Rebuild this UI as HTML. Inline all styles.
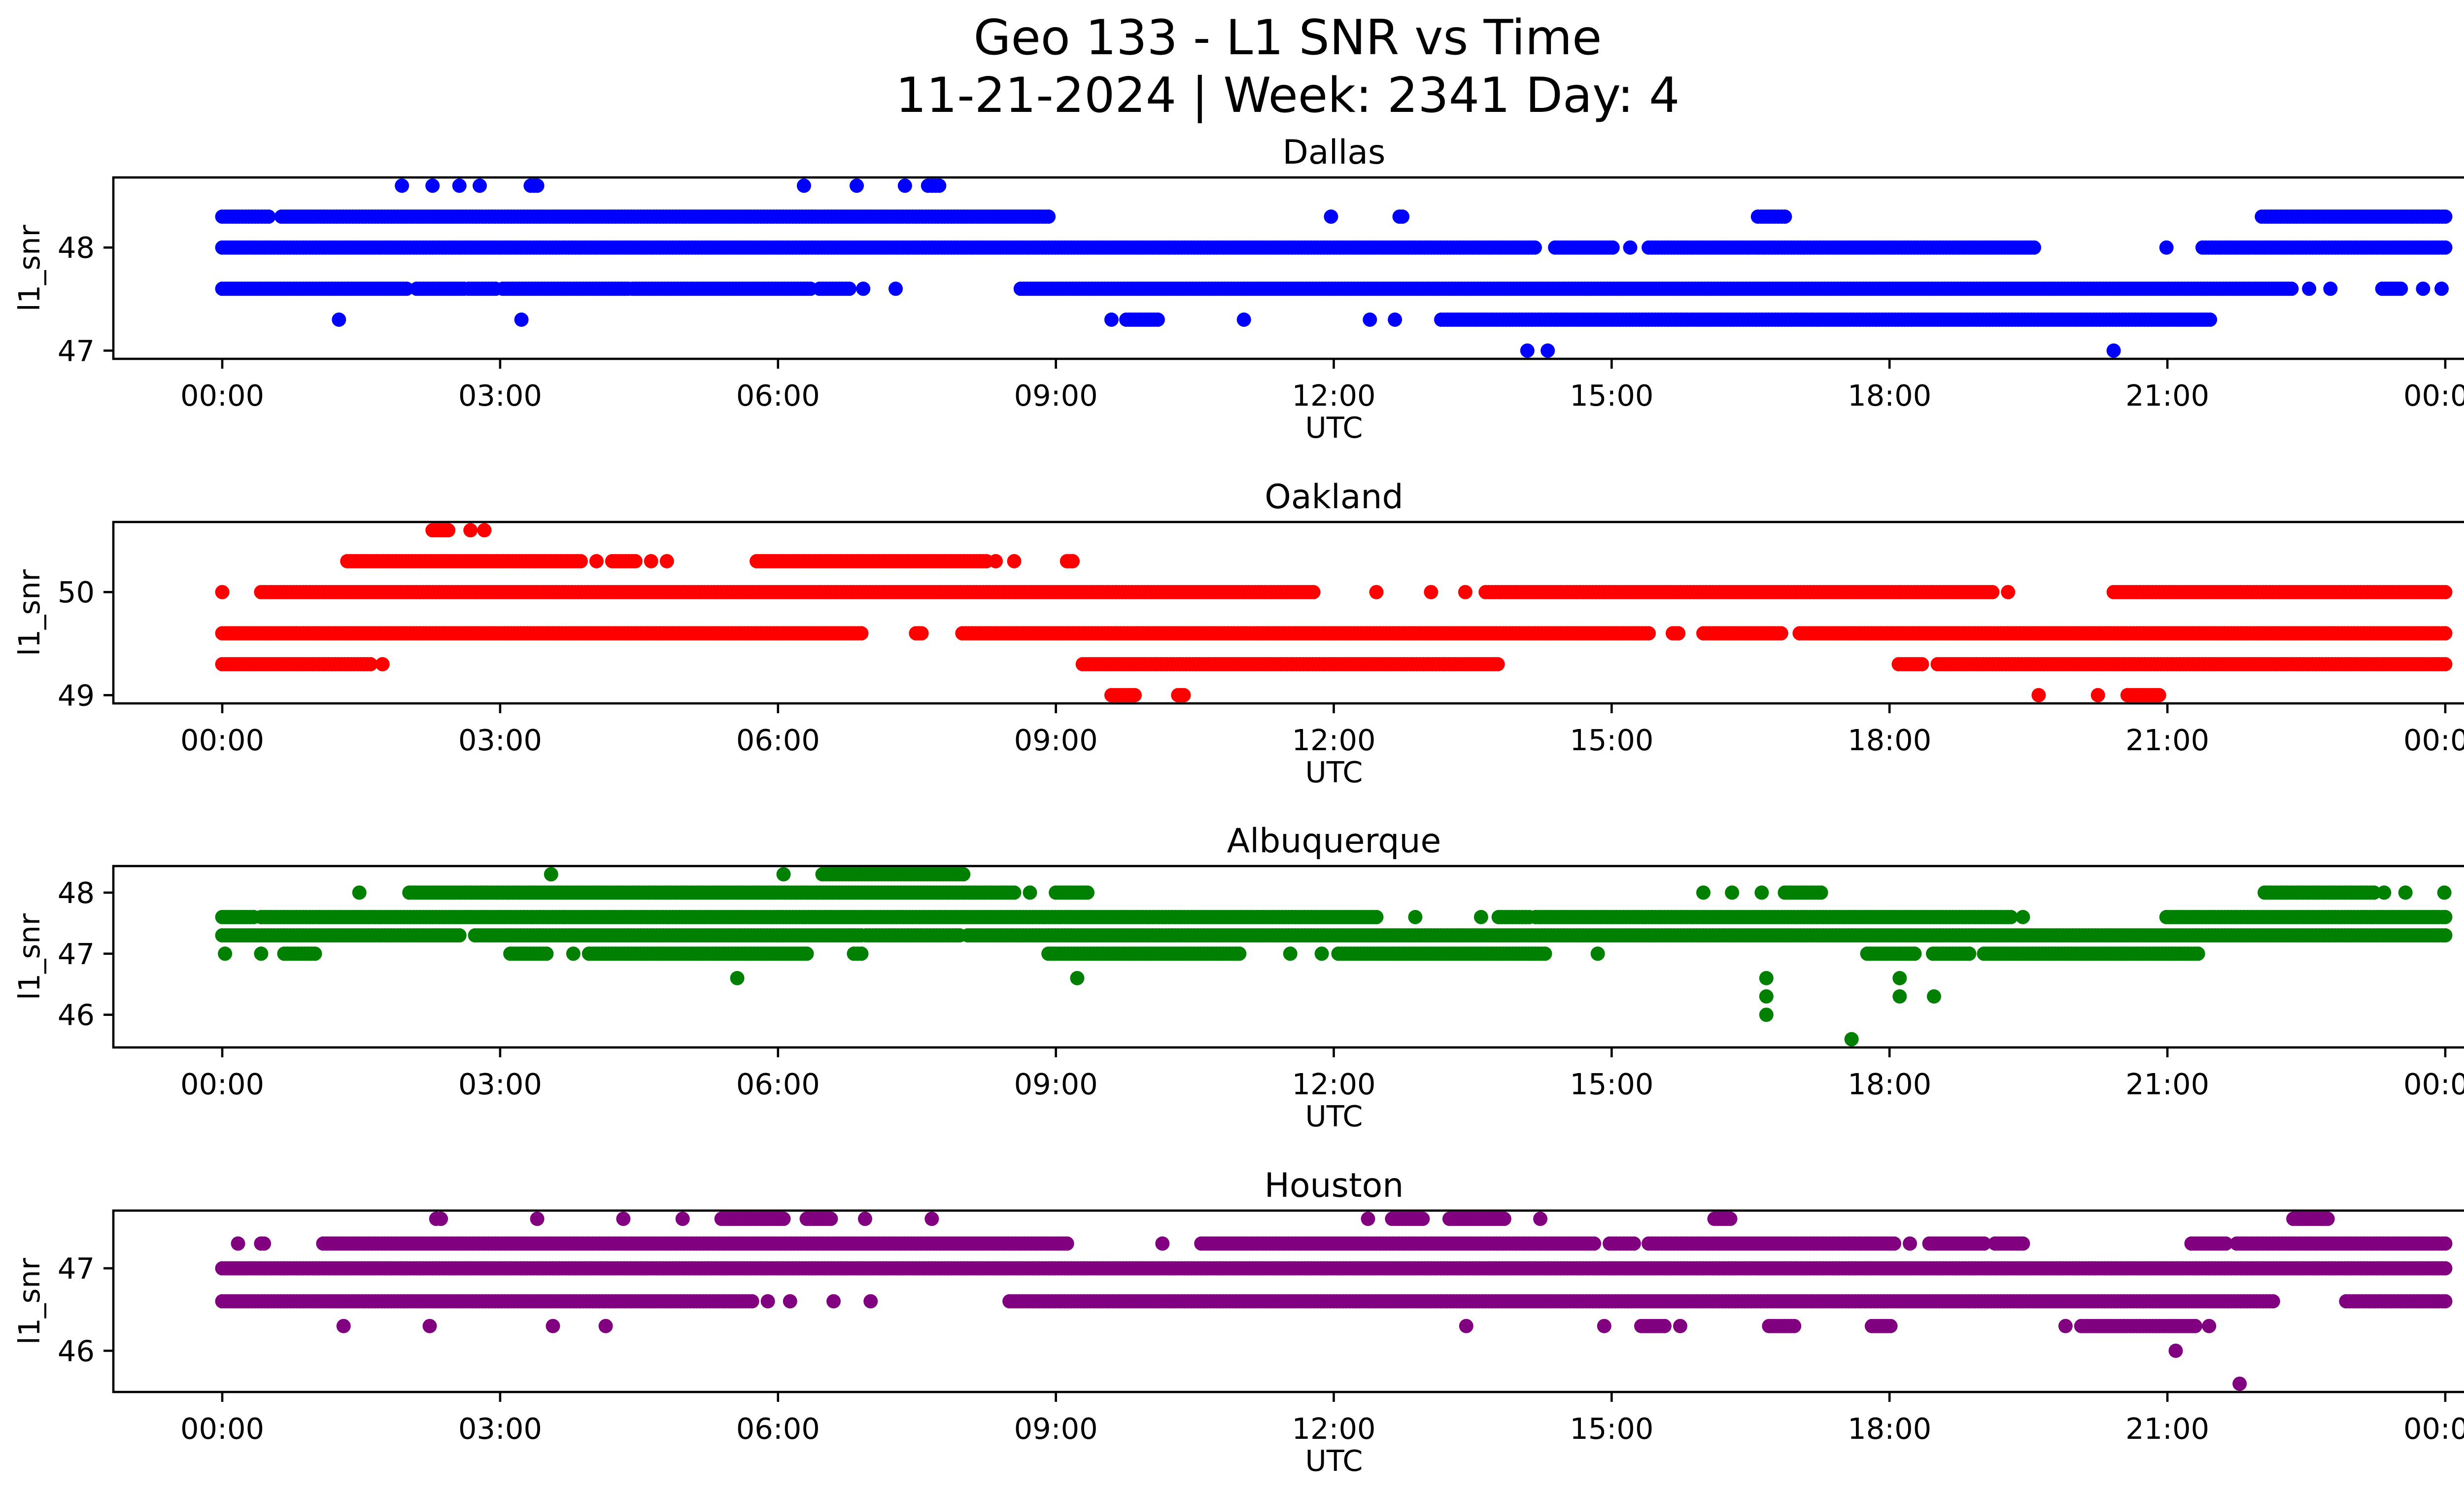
<!DOCTYPE html>
<html><head><meta charset="utf-8">
<style>
html,body{margin:0;padding:0;background:#fff;}
svg{display:block;font-family:"DejaVu Sans","Liberation Sans",sans-serif;}
</style></head>
<body>
<svg id="fig" width="5226" height="3033" viewBox="0 0 5226 3033" xmlns="http://www.w3.org/2000/svg">
<rect width="5226" height="3033" fill="#fff"/>
<text x="2613" y="110" font-size="98" text-anchor="middle">Geo 133 - L1 SNR vs Time</text>
<text x="2613" y="227" font-size="98" text-anchor="middle">11-21-2024 | Week: 2341 Day: 4</text>
<g id="panels"></g>
</svg>
<script>
// x ticks (hours) and labels
const xTickHours = [0,3,6,9,12,15,18,21,24];
const xTickLabels = ["00:00","03:00","06:00","09:00","12:00","15:00","18:00","21:00","00:00"];

// per station: levels and [start,end] hour spans at each level
const dallasLevels = [48.6, 48.3, 48.0, 47.6, 47.3, 47.0];
const dallasSpans = [
  [[1.94,1.94],[2.27,2.27],[2.56,2.56],[2.78,2.78],[3.33,3.4],[6.28,6.28],[6.85,6.85],[7.37,7.37],[7.62,7.74]],
  [[0,0.5],[0.64,8.92],[11.97,11.97],[12.71,12.74],[16.58,16.87],[22.02,24]],
  [[0,14.17],[14.39,15.01],[15.2,15.2],[15.4,19.56],[20.99,20.99],[21.38,24]],
  [[0,1.99],[2.1,2.61],[2.66,2.95],[3.03,4.38],[4.43,6.35],[6.45,6.77],[6.92,6.92],[7.27,7.27],[8.62,22.34],[22.53,22.53],[22.76,22.76],[23.32,23.52],[23.76,23.76],[23.96,23.96]],
  [[1.26,1.26],[3.23,3.23],[9.6,9.6],[9.76,10.1],[11.03,11.03],[12.39,12.39],[12.66,12.66],[13.16,21.46]],
  [[14.09,14.09],[14.31,14.31],[20.42,20.42]]
];
const oaklandLevels = [50.6, 50.3, 50.0, 49.6, 49.3, 49.0];
const oaklandSpans = [
  [[2.27,2.44],[2.68,2.68],[2.83,2.83]],
  [[1.35,3.87],[4.04,4.04],[4.21,4.46],[4.63,4.63],[4.8,4.8],[5.77,8.25],[8.35,8.35],[8.55,8.55],[9.12,9.18]],
  [[0,0],[0.42,11.78],[12.46,12.46],[13.05,13.05],[13.42,13.42],[13.64,19.11],[19.28,19.28],[20.42,24]],
  [[0,6.9],[7.49,7.55],[7.99,15.4],[15.66,15.72],[15.99,16.83],[17.03,24]],
  [[0,1.6],[1.73,1.73],[9.29,13.77],[18.1,18.35],[18.52,24]],
  [[9.6,9.85],[10.32,10.38],[19.61,19.61],[20.25,20.25],[20.57,20.91]]
];
const albuquerqueLevels = [48.3, 48.0, 47.6, 47.3, 47.0, 46.6, 46.3, 46.0, 45.6];
const albuquerqueSpans = [
  [[3.55,3.55],[6.06,6.06],[6.48,8.0]],
  [[1.48,1.48],[2.02,8.55],[8.72,8.72],[9.0,9.34],[15.99,15.99],[16.3,16.3],[16.62,16.62],[16.87,17.26],[22.05,23.23],[23.34,23.34],[23.57,23.57],[23.99,23.99]],
  [[0,0.34],[0.42,12.46],[12.88,12.88],[13.59,13.59],[13.78,14.11],[14.18,19.31],[19.44,19.44],[20.99,24]],
  [[0,2.56],[2.73,6.9],[6.95,7.96],[8.05,24]],
  [[0.03,0.03],[0.42,0.42],[0.67,1.0],[3.11,3.5],[3.79,3.79],[3.96,6.31],[6.82,6.9],[8.92,10.98],[11.53,11.53],[11.87,11.87],[12.05,14.28],[14.85,14.85],[17.76,18.27],[18.47,18.86],[19.02,21.33]],
  [[5.56,5.56],[9.23,9.23],[16.67,16.67],[18.11,18.11]],
  [[16.67,16.67],[18.11,18.11],[18.48,18.48]],
  [[16.67,16.67]],
  [[17.59,17.59]]
];
const houstonLevels = [47.6, 47.3, 47.0, 46.6, 46.3, 46.0, 45.6];
const houstonSpans = [
  [[2.31,2.36],[3.4,3.4],[4.33,4.33],[4.97,4.97],[5.39,6.06],[6.31,6.57],[6.94,6.94],[7.66,7.66],[12.37,12.37],[12.63,12.96],[13.25,13.84],[14.23,14.23],[16.11,16.28],[22.36,22.73]],
  [[0.17,0.17],[0.42,0.45],[1.09,9.12],[10.15,10.15],[10.57,14.81],[14.98,15.24],[15.4,18.05],[18.22,18.22],[18.43,19.02],[19.14,19.44],[21.26,21.63],[21.75,24]],
  [[0,24]],
  [[0,5.72],[5.89,5.89],[6.13,6.13],[6.6,6.6],[7.0,7.0],[8.5,22.14],[22.93,24]],
  [[1.31,1.31],[2.24,2.24],[3.57,3.57],[4.14,4.14],[13.43,13.43],[14.92,14.92],[15.32,15.57],[15.74,15.74],[16.7,16.97],[17.81,18.01],[19.9,19.9],[20.07,21.3],[21.45,21.45]],
  [[21.09,21.09]],
  [[21.78,21.78]]
];

const panels = [
  {name:"dallas", title:"Dallas", color:"#0000ff", top:360, ymin:46.92, ymax:48.68, yticks:[47,48], levels:dallasLevels, spans:dallasSpans},
  {name:"oakland", title:"Oakland", color:"#ff0000", top:1059, ymin:48.92, ymax:50.68, yticks:[49,50], levels:oaklandLevels, spans:oaklandSpans},
  {name:"albuquerque", title:"Albuquerque", color:"#008000", top:1757, ymin:45.465, ymax:48.435, yticks:[46,47,48], levels:albuquerqueLevels, spans:albuquerqueSpans},
  {name:"houston", title:"Houston", color:"#800080", top:2456, ymin:45.5, ymax:47.7, yticks:[46,47], levels:houstonLevels, spans:houstonSpans}
];

const NS="http://www.w3.org/2000/svg";
const AX_L=230, AX_R=5184, AX_H=368;
const X0=451, X24=4962;
const FS=59, TICK=20, SW=4.6;
function xScale(h){return X0+(X24-X0)*h/24;}
function mk(tag,attrs,parent){const e=document.createElementNS(NS,tag);for(const k in attrs)e.setAttribute(k,attrs[k]);parent.appendChild(e);return e;}
const root=document.getElementById("panels");

panels.forEach(p=>{
  const top=p.top, bot=top+AX_H;
  const yScale=v=>bot-(v-p.ymin)/(p.ymax-p.ymin)*AX_H;
  const g=mk("g",{},root);
  
  
  const t=mk("text",{x:(AX_L+AX_R)/2,y:top-28,"font-size":68,"text-anchor":"middle"},g);
  t.textContent=p.title;
  
  
  const pts=mk("g",{fill:p.color},g);
  
  
  p.levels.forEach((lv,i)=>{
    const y=yScale(lv);
    p.spans[i].forEach(s=>{
      const step=0.035;
      const n=Math.max(0,Math.round((s[1]-s[0])/step));
      for(let k=0;k<=n;k++){
        const h=n===0?s[0]:s[0]+(s[1]-s[0])*k/n;
        const c=mk("circle",{cx:xScale(h).toFixed(1),cy:y.toFixed(1),r:14.5},pts);
        
        
      }
    });
  });
  const fr=mk("rect",{x:AX_L,y:top,width:AX_R-AX_L,height:AX_H,fill:"none",stroke:"#000","stroke-width":SW},g);
  
  
  xTickHours.forEach((h,i)=>{
    const x=xScale(h);
    mk("line",{x1:x,x2:x,y1:bot,y2:bot+TICK,stroke:"#000","stroke-width":SW},g);
    const tl=mk("text",{x:x,y:bot+95,"font-size":FS,"text-anchor":"middle"},g);
    tl.textContent=xTickLabels[i];
    
    
  });
  p.yticks.forEach(v=>{
    const y=yScale(v);
    mk("line",{x1:AX_L-TICK,x2:AX_L,y1:y,y2:y,stroke:"#000","stroke-width":SW},g);
    const tl=mk("text",{x:AX_L-38,y:y+21,"font-size":FS,"text-anchor":"end"},g);
    tl.textContent=String(v);
    
    
  });
  const xl=mk("text",{x:(AX_L+AX_R)/2,y:bot+160,"font-size":FS,"text-anchor":"middle"},g);
  xl.textContent="UTC";
  
  
  const cy=top+AX_H/2;
  const yl=mk("text",{x:80,y:cy,"font-size":FS,"text-anchor":"middle",transform:"rotate(-90 80 "+cy+")"},g);
  yl.textContent="l1_snr";
  
  
});
</script>
</body></html>
